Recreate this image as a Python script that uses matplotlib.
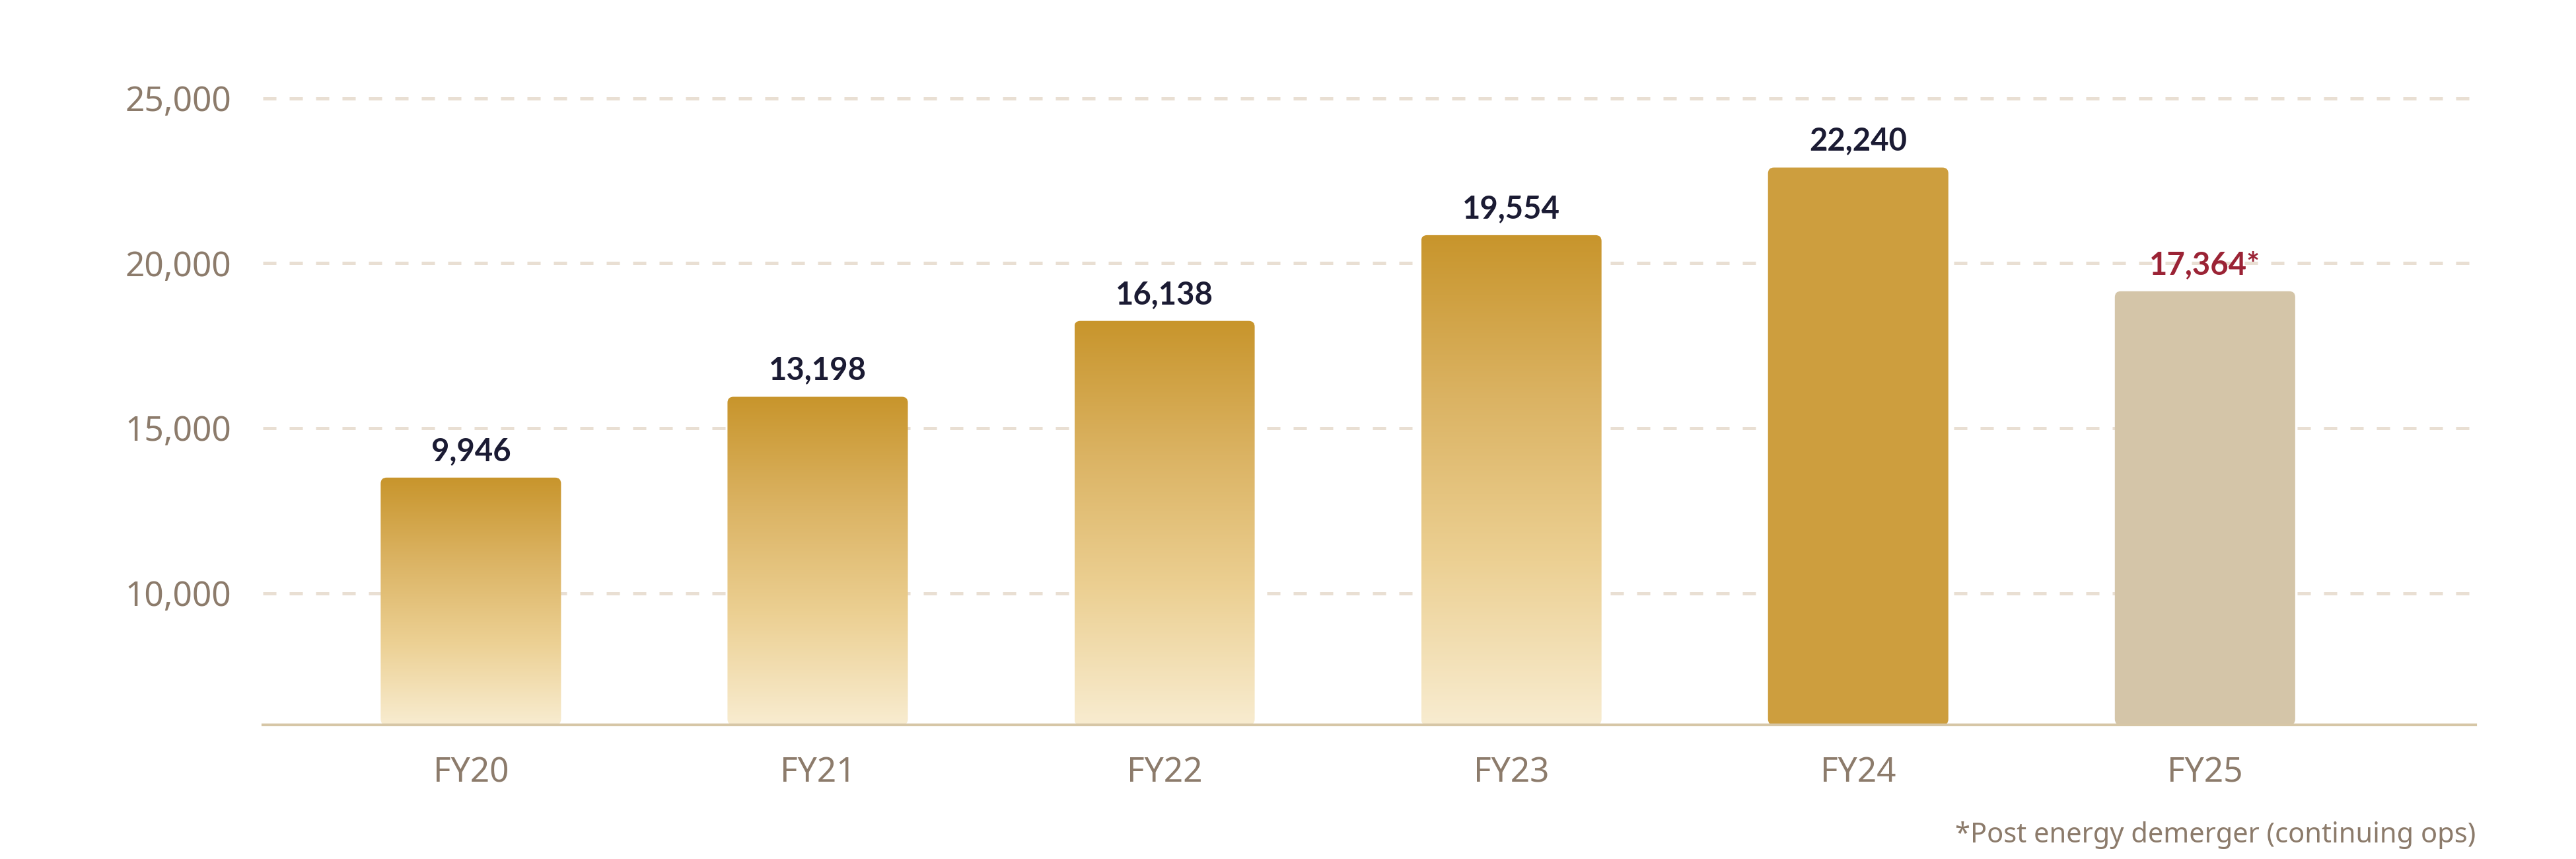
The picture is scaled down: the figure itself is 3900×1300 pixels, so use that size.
import numpy as np
import matplotlib
matplotlib.use("Agg")
import matplotlib.pyplot as plt
from matplotlib.patches import FancyBboxPatch
from matplotlib.colors import LinearSegmentedColormap
from matplotlib.ticker import FuncFormatter

plt.rcParams['font.family'] = ['Noto Sans', 'DejaVu Sans']

# data
years = ['FY20', 'FY21', 'FY22', 'FY23', 'FY24', 'FY25']
bar_heights = [13500, 15950, 18250, 20850, 22900, 19150]
bar_labels = ['9,946', '13,198', '16,138', '19,554', '22,240', '17,364*']
yticks = [10000, 15000, 20000, 25000]
footnote = '*Post energy demerger (continuing ops)'

tick_col = '#8c7b6b'
grid_col = '#e9dfd3'
base_col = '#d6c6a6'
label_col = '#1b1b33'
fy25_label_col = '#9b2335'
fy24_col = '#cd9e3e'
fy25_col = '#d4c5a8'
grad = LinearSegmentedColormap.from_list('gold', ['#f8ecd0', '#ecd093', '#dbb363', '#c8952c'])

fig = plt.figure(figsize=(39, 13), dpi=100)
ax = fig.add_axes([0.102, 0.156, 0.859, 0.768])

ymin, ymax = 6000, 26000
xlo, xhi = -0.6, 5.78
width = 0.52

x = np.arange(len(years))
bars = ax.bar(x, np.array(bar_heights) - ymin, width=width, bottom=ymin, color='none', zorder=3)

# px per data unit, used to keep the corner radius round
ax_w_px = 0.859 * 3900
ax_h_px = 0.768 * 1300
px_x = ax_w_px / (xhi - xlo)
px_y = ax_h_px / (ymax - ymin)
r_px = 9
for i, b in enumerate(bars):
    x0, y0 = b.get_x(), b.get_y()
    w, h = b.get_width(), b.get_height()
    b.remove()
    patch = FancyBboxPatch((x0, y0), w, h,
                           boxstyle=f"round,pad=0,rounding_size={r_px / px_x}",
                           mutation_aspect=px_x / px_y, lw=0, zorder=3)
    if i < 4:
        patch.set_facecolor('none')
        ax.add_patch(patch)
        img = ax.imshow(np.linspace(1, 0, 256).reshape(-1, 1), cmap=grad, aspect='auto',
                        extent=(x0, x0 + w, y0, y0 + h), zorder=3, interpolation='bicubic')
        img.set_clip_path(patch)
    else:
        patch.set_facecolor(fy24_col if i == 4 else fy25_col)
        ax.add_patch(patch)
    ax.annotate(bar_labels[i], (x[i], bar_heights[i]), xytext=(0, 13), textcoords='offset points',
                ha='center', va='bottom', fontsize=34, fontweight='bold',
                family=['Lato', 'Noto Sans', 'DejaVu Sans'],
                color=fy25_label_col if i == 5 else label_col, zorder=5)

ax.set_xlim(xlo, xhi)
ax.set_ylim(ymin, ymax)

ax.set_yticks(yticks)
ax.yaxis.set_major_formatter(FuncFormatter(lambda v, p: f'{int(v):,}'))
ax.set_xticks(x)
ax.set_xticklabels(years)
ax.tick_params(axis='y', length=0, pad=34, labelsize=37, labelcolor=tick_col)
ax.tick_params(axis='x', length=0, pad=34, labelsize=37, labelcolor=tick_col)

for v in yticks:
    ax.axhline(v, color=grid_col, lw=3.6, ls=(0, (4, 4)), zorder=1)

for s in ['top', 'right', 'left']:
    ax.spines[s].set_visible(False)
ax.spines['bottom'].set_color(base_col)
ax.spines['bottom'].set_linewidth(3)
ax.spines['bottom'].set_zorder(4)

fig.text(0.961, 0.028, footnote, ha='right', va='center', fontsize=30, color=tick_col)

fig.savefig('out.png', dpi=100, facecolor='white')
